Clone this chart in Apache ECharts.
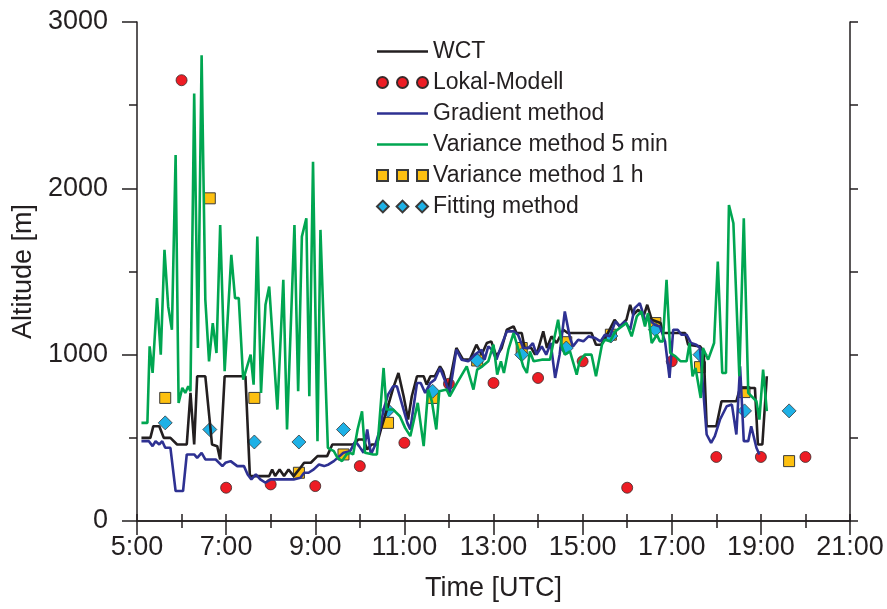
<!DOCTYPE html>
<html>
<head>
<meta charset="utf-8">
<script src="https://cdn.jsdelivr.net/npm/echarts@6/dist/echarts.min.js"></script>
<style>
  html, body { margin: 0; padding: 0; background: #fff; }
  #chart { width: 887px; height: 609px; }
</style>
</head>
<body>
<div id="chart"></div>
<script>
// time (H:MM, UTC) / altitude (m)
const wct = [
    ['5:06',500],['5:18',500],['5:22',570],['5:30',570],['5:36',500],['5:45',500],['5:54',460],['6:07',460],
    ['6:12',770],['6:17',460],['6:21',870],['6:32',870],['6:41',460],['6:48',450],['6:52',370],['6:58',870],
    ['7:26',870],['7:32',270],['7:58',270],['8:02',310],['8:06',270],['8:12',310],['8:18',270],['8:24',310],
    ['8:31',270],['8:40',320],['8:45',350],['8:54',350],['9:03',390],['9:16',390],['9:23',460],['9:51',460],
    ['9:58',490],['10:05',490],['10:10',430],['10:16',460],['10:23',460],['10:29',560],['10:38',690],['10:45',800],
    ['10:52',890],['10:59',750],['11:05',610],['11:10',750],['11:17',870],['11:26',870],['11:30',820],['11:35',870],
    ['11:41',870],['11:48',930],['11:52',900],['11:59',790],['12:10',1040],['12:19',970],['12:28',970],['12:37',1060],
    ['12:44',1000],['12:51',1070],['12:57',1080],['13:04',990],['13:11',1040],['13:18',1150],['13:27',1170],['13:31',1130],
    ['13:38',1130],['13:42',1040],['13:51',1040],['13:56',1000],['14:00',1030],['14:07',1140],['14:12',1040],['14:18',1110],
    ['14:25',1070],['14:34',1150],['14:40',1130],['15:12',1130],['15:18',1060],['15:25',1060],['15:34',1130],['15:43',1210],
    ['15:50',1170],['15:59',1210],['16:04',1300],['16:08',1240],['16:15',1270],['16:22',1230],['16:27',1300],['16:33',1210],
    ['16:45',1190],['16:48',1130],['17:18',1130],['17:22',1060],['17:38',1050],['17:43',1020],['17:47',570],['18:00',570],
    ['18:07',720],['18:27',720],['18:32',800],['18:52',800],['18:56',460],['19:02',460],['19:08',870]
];

const gradient = [
    ['5:06',480],['5:16',480],['5:21',450],['5:25',480],['5:30',460],['5:34',480],['5:38',440],['5:45',440],
    ['5:52',180],['6:02',180],['6:07',400],['6:17',400],['6:21',380],['6:27',410],['6:32',370],['6:46',370],
    ['6:55',330],['6:59',350],['7:06',360],['7:15',330],['7:24',330],['7:29',280],['7:34',250],['7:40',280],
    ['7:46',250],['7:53',230],['8:00',250],['8:31',250],['8:40',260],['8:45',290],['8:51',290],['8:58',310],
    ['9:05',340],['9:12',330],['9:18',340],['9:25',360],['9:38',410],['9:47',420],['9:54',480],['9:59',450],
    ['10:05',410],['10:10',550],['10:15',400],['10:21',460],['10:27',550],['10:32',670],['10:38',760],['10:45',810],
    ['10:50',810],['10:57',700],['11:04',590],['11:08',550],['11:17',830],['11:22',830],['11:28',770],['11:35',830],
    ['11:41',850],['11:48',920],['11:55',840],['12:01',770],['12:10',1030],['12:17',970],['12:26',960],['12:35',1000],
    ['12:44',1030],['12:48',970],['12:53',1050],['12:58',1030],['13:04',970],['13:11',1060],['13:18',1140],['13:27',1140],
    ['13:33',1120],['13:40',1040],['13:47',1040],['13:53',1070],['13:58',1000],['14:05',1050],['14:11',1000],['14:17',1070],
    ['14:23',860],['14:29',1000],['14:36',1260],['14:43',1100],['14:47',1050],['14:54',1090],['15:01',1080],['15:08',1110],
    ['15:17',1100],['15:24',1080],['15:30',1120],['15:37',1110],['15:44',1200],['15:50',1170],['15:57',1200],['16:04',1150],
    ['16:10',1280],['16:17',1310],['16:24',1210],['16:30',1210],['16:37',1180],['16:44',1170],['16:51',1080],['16:57',860],
    ['17:02',1150],['17:08',1150],['17:13',1120],['17:20',1120],['17:26',1070],['17:33',1060],['17:38',1040],['17:47',520],
    ['17:53',470],['17:58',510],['18:05',610],['18:14',690],['18:21',700],['18:27',520],['18:32',930],['18:37',480],
    ['18:43',480],['18:47',570],['18:54',440],['18:58',400]
];

const variance5 = [
    ['5:06',590],['5:14',590],['5:17',1050],['5:21',890],['5:27',1340],['5:32',1000],['5:37',1630],['5:42',1290],
    ['5:47',1150],['5:52',2200],['5:56',710],['6:01',800],['6:05',770],['6:09',810],['6:12',780],['6:17',2570],
    ['6:22',1040],['6:27',2800],['6:32',1330],['6:37',960],['6:42',1190],['6:47',1010],['6:52',1780],['6:58',900],
    ['7:07',1600],['7:12',1340],['7:17',1340],['7:23',850],['7:33',1000],['7:37',820],['7:42',1710],['7:47',770],
    ['7:53',1300],['7:58',1410],['8:09',670],['8:17',1450],['8:22',550],['8:32',1780],['8:37',780],['8:42',1710],
    ['8:48',1820],['8:52',750],['8:57',2160],['9:03',480],['9:07',1750],['9:17',440],['9:25',420],['9:30',380],
    ['9:36',360],['9:42',400],['9:47',410],['9:51',400],['9:57',550],['10:03',660],['10:07',410],['10:18',400],
    ['10:23',400],['10:32',920],['10:36',670],['10:45',670],['10:54',630],['11:01',560],['11:08',510],['11:18',710],
    ['11:26',450],['11:32',790],['11:37',720],['11:43',550],['11:47',780],['11:57',790],['12:01',750],['12:11',830],
    ['12:24',930],['12:33',790],['12:38',910],['12:45',930],['12:53',960],['13:00',1060],['13:05',880],['13:10',960],
    ['13:14',890],['13:20',1030],['13:27',1130],['13:33',1040],['13:40',930],['13:45',890],['13:49',1020],['13:54',960],
    ['14:05',970],['14:16',970],['14:21',1080],['14:27',1210],['14:32',1050],['14:36',1000],['14:43',1020],['14:52',880],
    ['14:56',960],['15:03',1000],['15:12',1000],['15:18',870],['15:26',1060],['15:30',1090],['15:37',1080],['15:44',1140],
    ['15:50',1160],['15:59',1190],['16:06',1110],['16:13',1230],['16:19',1260],['16:24',1170],['16:28',1250],['16:33',1070],
    ['16:40',1120],['16:44',1080],['16:48',1080],['16:53',1450],['16:58',1010],['17:05',990],['17:12',960],['17:20',960],
    ['17:24',1070],['17:28',870],['17:32',920],['17:39',740],['17:42',1040],['17:49',970],['17:57',1070],['18:02',1560],
    ['18:08',890],['18:13',890],['18:17',1900],['18:23',1790],['18:31',870],['18:37',1820],['18:43',770],['18:54',720],
    ['18:58',610],['19:03',910],['19:08',660]
];

const lokalTimes = ['6:00','7:00','8:00','9:00','10:00','11:00','12:00','13:00','14:00','15:00','16:00','17:00','18:00','19:00','20:00'];
const lokalAlt = [2650, 200, 220, 210, 330, 470, 825, 830, 860, 960, 200, 960, 385, 385, 385];

const hourlyTimes = ['5:38','6:38','7:38','8:38','9:38','10:38','11:38','12:38','13:38','14:38','15:38','16:38','17:38','18:38','19:38'];
const variance1hAlt = [740, 1940, 740, 290, 400, 590, 740, 965, 1040, 1075, 1120, 1190, 925, 775, 360];
const fittingAlt = [590, 550, 475, 475, 550, 665, 780, 965, 1000, 1040, 1112, 1150, 1000, 662, 662];

const xTicks = [5, 21, 2];   // min, max, step (hours)
const yTicks = [0, 3000, 1000];

const FONT = 'Liberation Sans, Arial, Helvetica, sans-serif';
const INK = '#231f20';

function hm(s) {
    const parts = s.split(':');
    return +parts[0] + parts[1] / 60;
}

function toPoints(list) {
    return list.map(p => [hm(p[0]), p[1]]);
}

function zipPoints(times, values) {
    return times.map((t, i) => [hm(t), values[i]]);
}

// legend icons: a plain bar for lines, three markers in a row for the point series
const lineIcon = 'path://M0,0H50V2.6H0Z';
const threeCircles = 'path://M0,5.5a5.5,5.5 0 1,0 11,0a5.5,5.5 0 1,0 -11,0Z M20,5.5a5.5,5.5 0 1,0 11,0a5.5,5.5 0 1,0 -11,0Z M40,5.5a5.5,5.5 0 1,0 11,0a5.5,5.5 0 1,0 -11,0Z';
const threeSquares = 'path://M0,0H11V11H0Z M20,0H31V11H20Z M40,0H51V11H40Z';
const threeDiamonds = 'path://M6,0L12,6L6,12L0,6Z M26,0L32,6L26,12L20,6Z M46,0L52,6L46,12L40,6Z';

const chart = echarts.init(document.getElementById('chart'));

const axisLine = { show: true, lineStyle: { color: INK, width: 1.5 } };

function lineSeries(name, data, color) {
    return {
        name: name,
        type: 'line',
        data: toPoints(data),
        symbol: 'none',
        lineStyle: { color: color, width: 2.6 },
        itemStyle: { color: color },
        animation: false
    };
}

const option = {
    backgroundColor: '#fff',
    textStyle: { fontFamily: FONT },
    grid: { left: 137, right: 37, top: 22, bottom: 88 },
    legend: {
        orient: 'vertical',
        left: 371,
        top: 35,
        itemWidth: 51,
        itemHeight: 12,
        itemGap: 8,
        textStyle: { fontSize: 23, color: INK, fontFamily: FONT },
        data: [
            { name: 'WCT', icon: lineIcon },
            { name: 'Lokal-Modell', icon: threeCircles },
            { name: 'Gradient method', icon: lineIcon },
            { name: 'Variance method 5 min', icon: lineIcon },
            { name: 'Variance method 1 h', icon: threeSquares },
            { name: 'Fitting method', icon: threeDiamonds }
        ]
    },
    xAxis: [{
        type: 'value',
        min: xTicks[0], max: xTicks[1], interval: xTicks[2],
        name: 'Time [UTC]',
        nameLocation: 'middle',
        nameGap: 54,
        nameTextStyle: { fontSize: 27, color: INK },
        axisLine: axisLine,
        axisTick: { show: true, inside: false, length: 14, lineStyle: { color: INK, width: 1.5 } },
        minorTick: { show: true, splitNumber: 2, length: 7, lineStyle: { color: INK, width: 1.5 } },
        axisLabel: { fontSize: 27, color: INK, margin: 13, formatter: v => v + ':00' },
        splitLine: { show: false }
    }, {
        type: 'value',
        position: 'top',
        min: xTicks[0], max: xTicks[1], interval: xTicks[2],
        axisLine: axisLine,
        axisTick: { show: true, inside: false, length: 7, lineStyle: { color: INK, width: 1.5 } },
        minorTick: { show: true, splitNumber: 2, length: 7, lineStyle: { color: INK, width: 1.5 } },
        axisLabel: { show: false },
        splitLine: { show: false }
    }],
    yAxis: [{
        type: 'value',
        min: yTicks[0], max: yTicks[1], interval: yTicks[2],
        name: 'Altitude [m]',
        nameLocation: 'middle',
        nameGap: 89,
        nameRotate: 90,
        nameTextStyle: { fontSize: 27, color: INK },
        axisLine: axisLine,
        axisTick: { show: true, inside: false, length: 15, lineStyle: { color: INK, width: 1.5 } },
        minorTick: { show: true, splitNumber: 2, length: 8, lineStyle: { color: INK, width: 1.5 } },
        axisLabel: { fontSize: 27, color: INK, margin: 29, formatter: v => String(v) },
        splitLine: { show: false }
    }, {
        type: 'value',
        position: 'right',
        min: yTicks[0], max: yTicks[1], interval: yTicks[2],
        axisLine: axisLine,
        axisTick: { show: true, inside: false, length: 8, lineStyle: { color: INK, width: 1.5 } },
        minorTick: { show: true, splitNumber: 2, length: 8, lineStyle: { color: INK, width: 1.5 } },
        axisLabel: { show: false },
        splitLine: { show: false }
    }],
    series: [
        {
            name: 'Lokal-Modell',
            type: 'scatter',
            data: zipPoints(lokalTimes, lokalAlt),
            symbol: 'circle',
            symbolSize: 11,
            itemStyle: { color: '#ed1c24', borderColor: '#3a2a2a', borderWidth: 0.8, opacity: 1 },
            animation: false
        },
        lineSeries('WCT', wct, INK),
        lineSeries('Gradient method', gradient, '#2e3192'),
        lineSeries('Variance method 5 min', variance5, '#00a651'),
        {
            name: 'Variance method 1 h',
            type: 'scatter',
            data: zipPoints(hourlyTimes, variance1hAlt),
            symbol: 'rect',
            symbolSize: 11,
            itemStyle: { color: '#fdc010', borderColor: '#3a3a3a', borderWidth: 1, opacity: 1 },
            animation: false
        },
        {
            name: 'Fitting method',
            type: 'scatter',
            data: zipPoints(hourlyTimes, fittingAlt),
            symbol: 'diamond',
            symbolSize: 14,
            itemStyle: { color: '#1eb1e6', borderColor: '#3a3a3a', borderWidth: 0.8, opacity: 1 },
            animation: false
        }
    ]
};

chart.setOption(option);
</script>
</body>
</html>
